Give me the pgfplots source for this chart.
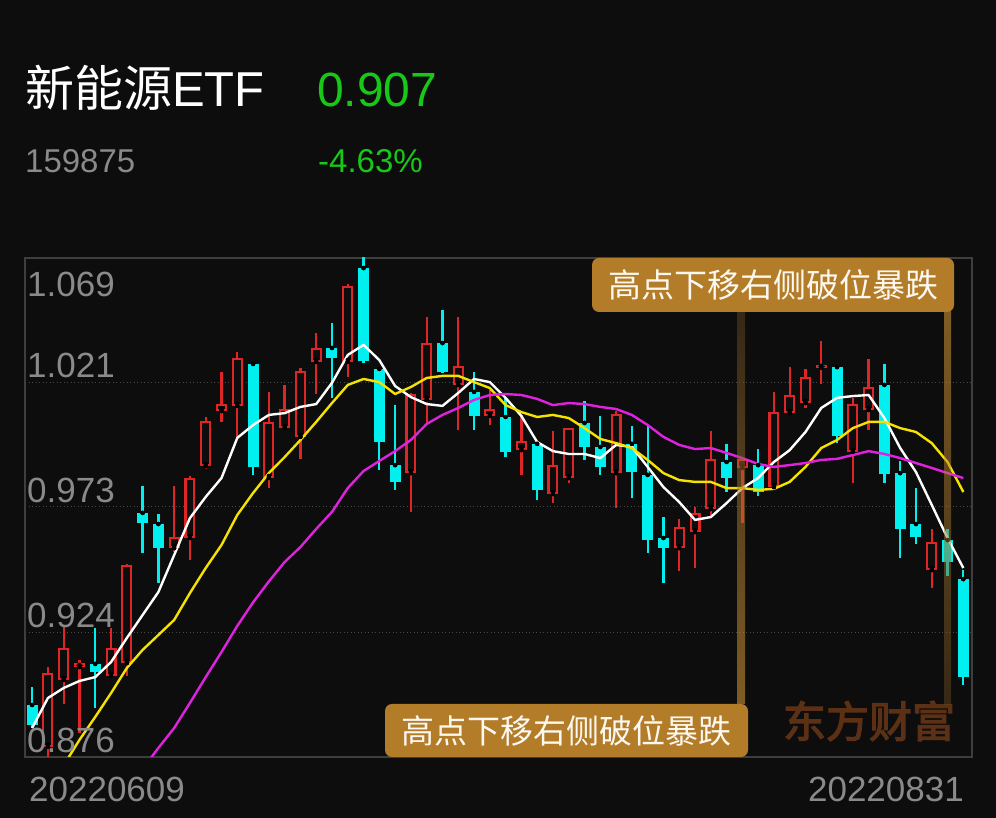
\documentclass[border=0pt]{standalone}
\usepackage{fontspec}
\setmainfont{Liberation Sans}
\newfontfamily\cjk{Noto Sans CJK SC}
\newfontfamily\cjkb[FakeBold=3]{Noto Sans CJK SC}
\usepackage{pgfplots}
\usepackage{pgfplotstable}
\pgfplotsset{compat=1.18}

\definecolor{bg}{RGB}{13,13,13}
\definecolor{kred}{RGB}{222,38,38}
\definecolor{kcyan}{RGB}{0,240,240}
\definecolor{maten}{RGB}{245,226,0}
\definecolor{matwenty}{RGB}{224,34,224}
\definecolor{upgreen}{RGB}{24,200,24}
\definecolor{lbl}{RGB}{138,138,138}
\definecolor{axframe}{RGB}{62,62,62}
\definecolor{gridc}{RGB}{72,72,72}
\definecolor{tagbg}{RGB}{178,124,40}
\definecolor{tagtx}{RGB}{252,248,240}
\definecolor{bandhi}{RGB}{240,172,60}
\definecolor{bandlo}{RGB}{96,68,32}
\definecolor{wmark}{RGB}{92,48,20}

% up days (hollow red): x open high low close
\pgfplotstableread{
x o h l c
1 0.8799 0.9108 0.8758 0.9085
2 0.9058 0.9270 0.8965 0.9182
3 0.9108 0.9135 0.8853 0.9123
5 0.9073 0.9259 0.9065 0.9182
6 0.9123 0.9506 0.9073 0.9503
9 0.9568 0.9808 0.9553 0.9611
10 0.9607 0.9847 0.9522 0.9839
11 0.9885 1.0075 0.9874 1.0060
12 1.0098 1.0249 1.0056 1.0125
13 1.0118 1.0326 0.9994 1.0303
15 0.9839 1.0172 0.9800 1.0056
16 1.0032 1.0199 1.0030 1.0106
17 0.9998 1.0265 0.9913 1.0253
18 1.0288 1.0400 1.0164 1.0342
20 1.0288 1.0589 1.0230 1.0582
24 0.9858 1.0168 0.9708 1.0164
25 1.0141 1.0462 1.0044 1.0361
27 1.0199 1.0462 1.0025 1.0272
29 1.0079 1.0179 1.0044 1.0106
31 0.9947 1.0083 0.9851 0.9982
33 0.9777 1.0021 0.9742 0.9889
34 0.9839 1.0032 0.9820 1.0032
37 0.9858 1.0098 0.9723 1.0087
41 0.9568 0.9680 0.9479 0.9650
42 0.9630 0.9727 0.9491 0.9704
43 0.9719 1.0021 0.9696 0.9913
45 0.9878 0.9916 0.9665 0.9913
47 0.9804 1.0172 0.9800 1.0094
48 1.0090 1.0268 1.0085 1.0160
49 1.0129 1.0261 1.0110 1.0230
50 1.0265 1.0369 1.0203 1.0276
52 0.9940 1.0149 0.9820 1.0125
53 1.0102 1.0299 1.0025 1.0191
57 0.9483 0.9642 0.9414 0.9592
}\uptab

% down days (filled cyan)
\pgfplotstableread{
x o h l c
0 0.8961 0.9031 0.8872 0.8884
4 0.9120 0.9259 0.8949 0.9089
7 0.9704 0.9808 0.9549 0.9665
8 0.9661 0.9700 0.9433 0.9568
14 1.0280 1.0280 0.9851 0.9882
19 1.0342 1.0439 1.0149 1.0303
21 1.0651 1.0700 1.0284 1.0292
22 1.0261 1.0261 0.9870 0.9978
23 0.9889 1.0121 0.9793 0.9824
26 1.0361 1.0489 1.0245 1.0249
28 1.0172 1.0249 1.0025 1.0079
30 1.0075 1.0149 0.9920 0.9940
32 0.9971 0.9971 0.9754 0.9793
35 1.0052 1.0137 0.9909 0.9959
36 0.9959 1.0079 0.9851 0.9882
38 0.9971 1.0040 0.9762 0.9862
39 0.9851 1.0040 0.9549 0.9599
40 0.9607 0.9688 0.9433 0.9568
44 0.9901 0.9971 0.9785 0.9839
46 0.9889 0.9951 0.9769 0.9785
51 1.0268 1.0268 0.9974 1.0002
54 1.0199 1.0280 0.9820 0.9855
55 0.9858 0.9905 0.9530 0.9642
56 0.9661 0.9800 0.9584 0.9611
58 0.9599 0.9642 0.9460 0.9514
59 0.9448 0.9483 0.9038 0.9070
}\downtab

% moving averages
\pgfplotstableread{
x ma5 ma10 ma20
0 0.8872 nan nan
1 0.8988 nan nan
2 0.9027 0.8728 nan
3 0.9054 0.8826 nan
4 0.9069 0.8915 nan
5 0.9127 0.9007 nan
6 0.9220 0.9104 nan
7 0.9309 0.9174 0.8713
8 0.9398 0.9232 0.8795
9 0.9541 0.9290 0.8872
10 0.9684 0.9394 0.8969
11 0.9766 0.9491 0.9069
12 0.9839 0.9580 0.9166
13 0.9994 0.9696 0.9267
14 1.0044 0.9781 0.9358
15 1.0083 0.9858 0.9439
16 1.0090 0.9920 0.9514
17 1.0114 0.9986 0.9572
18 1.0125 1.0056 0.9642
19 1.0207 1.0129 0.9708
20 1.0315 1.0199 0.9800
21 1.0354 1.0222 0.9866
22 1.0295 1.0210 0.9905
23 1.0195 1.0164 0.9943
24 1.0152 1.0191 0.9986
25 1.0125 1.0226 1.0048
26 1.0118 1.0234 1.0083
27 1.0168 1.0234 1.0110
28 1.0222 1.0210 1.0141
29 1.0210 1.0187 1.0160
30 1.0149 1.0121 1.0164
31 1.0079 1.0094 1.0160
32 0.9978 1.0075 1.0145
33 0.9943 1.0083 1.0121
34 0.9932 1.0071 1.0129
35 0.9932 1.0032 1.0125
36 0.9916 0.9990 1.0114
37 0.9967 0.9974 1.0106
38 0.9959 0.9955 1.0083
39 0.9882 0.9909 1.0044
40 0.9804 0.9858 0.9998
41 0.9746 0.9831 0.9967
42 0.9677 0.9824 0.9951
43 0.9688 0.9824 0.9955
44 0.9742 0.9800 0.9936
45 0.9800 0.9800 0.9916
46 0.9839 0.9793 0.9893
47 0.9901 0.9797 0.9882
48 0.9947 0.9824 0.9889
49 1.0017 0.9882 0.9897
50 1.0110 0.9955 0.9909
51 1.0149 0.9986 0.9913
52 1.0156 1.0032 0.9928
53 1.0160 1.0056 0.9943
54 1.0071 1.0056 0.9932
55 0.9955 1.0032 0.9916
56 0.9862 1.0017 0.9897
57 0.9735 0.9974 0.9878
58 0.9607 0.9901 0.9858
59 0.9491 0.9785 0.9839
}\matab

\begin{document}
\begin{tikzpicture}[x=1pt,y=1pt]
\fill[bg] (0,0) rectangle (996,818);

% header
\node[anchor=base west, inner sep=0, text=white, font=\fontsize{49}{49}\selectfont] at (25,711) {{\cjk 新能源}ETF};
\node[anchor=base west, inner sep=0, text=upgreen, font=\fontsize{48}{48}\selectfont] at (317,711) {0.907};
\node[anchor=base west, inner sep=0, text=lbl, font=\fontsize{33}{33}\selectfont] at (25,645) {159875};
\node[anchor=base west, inner sep=0, text=upgreen, font=\fontsize{33}{33}\selectfont] at (318,645) {-4.63\%};

\begin{axis}[
    at={(25pt,61pt)}, anchor=south west,
    width=947pt, height=499pt, scale only axis,
    xmin=-0.45, xmax=59.55,
    ymin=0.876, ymax=1.069,
    xtick=\empty,
    ytick={0.924,0.973,1.021},
    yticklabels={},
    major tick length=0pt,
    ymajorgrids=true,
    grid style={gridc, line width=0.8pt, dash pattern=on 1pt off 2.5pt},
    axis line style={axframe, line width=1.2pt},
    axis background/.style={fill=bg},
]
% wicks
\addplot[only marks, mark=none, forget plot,
    error bars/.cd, y dir=both, y explicit, error mark=none,
    error bar style={line width=2.3pt, kred}]
    table[x=x, y=o, y error plus expr=\thisrow{h}-\thisrow{o}, y error minus expr=\thisrow{o}-\thisrow{l}] {\uptab};
\addplot[only marks, mark=none, forget plot,
    error bars/.cd, y dir=both, y explicit, error mark=none,
    error bar style={line width=2.3pt, kcyan}]
    table[x=x, y=o, y error plus expr=\thisrow{h}-\thisrow{o}, y error minus expr=\thisrow{o}-\thisrow{l}] {\downtab};
% hollow red bodies
\addplot[only marks, mark=none, forget plot,
    error bars/.cd, y dir=plus, y explicit, error mark=none,
    error bar style={line width=11pt, kred}]
    table[x=x, y=o, y error plus expr=\thisrow{c}-\thisrow{o}] {\uptab};
\addplot[only marks, mark=none, forget plot,
    error bars/.cd, y dir=plus, y explicit, error mark=none,
    error bar style={line width=6.8pt, bg}]
    table[x=x, y expr=\thisrow{o}+0.0008, y error plus expr=\thisrow{c}-\thisrow{o}-0.0016] {\uptab};
% filled cyan bodies
\addplot[only marks, mark=none, forget plot,
    error bars/.cd, y dir=minus, y explicit, error mark=none,
    error bar style={line width=11pt, kcyan}]
    table[x=x, y=o, y error minus expr=\thisrow{o}-\thisrow{c}] {\downtab};
% moving averages
\addplot[white, line width=2.4pt, line join=round, mark=none] table[x=x, y=ma5] {\matab};
\addplot[maten, line width=2.4pt, line join=round, mark=none] table[x=x, y=ma10] {\matab};
\addplot[matwenty, line width=2.4pt, line join=round, mark=none] table[x=x, y=ma20] {\matab};
\end{axis}

% price labels inside the plot
\begin{scope}[every node/.style={anchor=base west, inner sep=0, text=lbl, font=\fontsize{35}{35}\selectfont}]
\node at (27,521) {1.069};
\node at (27,440) {1.021};
\node at (27,315) {0.973};
\node at (27,190) {0.924};
\node at (27,65) {0.876};
\end{scope}
\node[anchor=base west, inner sep=0, text=lbl, font=\fontsize{35}{35}\selectfont] at (29,16) {20220609};
\node[anchor=base east, inner sep=0, text=lbl, font=\fontsize{35}{35}\selectfont] at (964,16) {20220831};

% watermark
\node[anchor=center, inner sep=0, text=wmark, font=\cjkb\fontsize{43}{43}\selectfont] at (869,97) {东方财富};

% connector bands
\shade[top color=bandlo, bottom color=bandhi, opacity=0.5] (737,114) rectangle (745,506);
\shade[top color=bandhi, bottom color=bandlo, opacity=0.5] (944,113) rectangle (951,506);

% tags
\fill[tagbg, rounded corners=7pt] (592,506) rectangle (954,560);
\node[anchor=center, inner sep=0, text=tagtx, font=\cjk\fontsize{33}{33}\selectfont] at (773,533) {高点下移右侧破位暴跌};
\fill[tagbg, rounded corners=7pt] (385,61) rectangle (748,114);
\node[anchor=center, inner sep=0, text=tagtx, font=\cjk\fontsize{33}{33}\selectfont] at (566.5,87.5) {高点下移右侧破位暴跌};
\end{tikzpicture}
\end{document}
